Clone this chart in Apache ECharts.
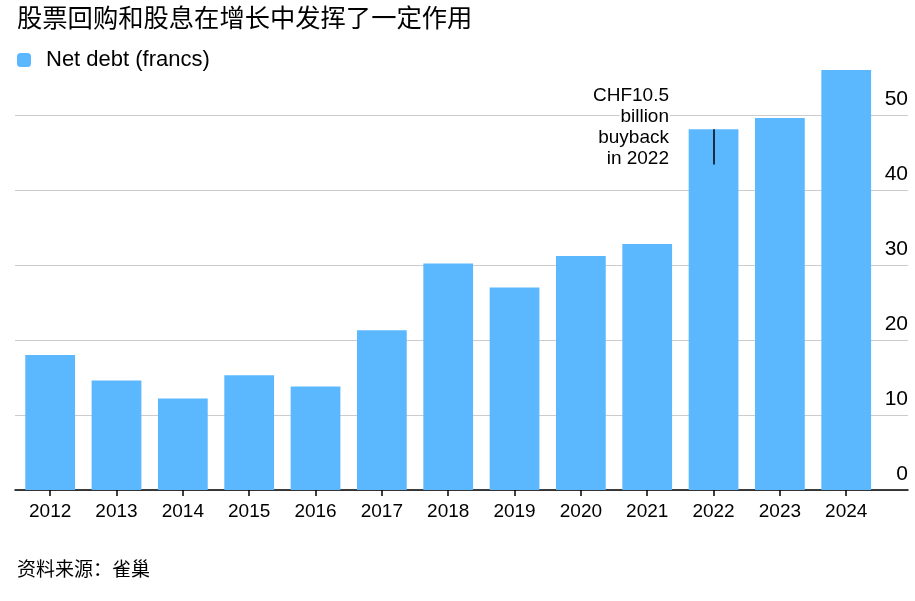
<!DOCTYPE html>
<html>
<head>
<meta charset="utf-8">
<script src="https://cdn.jsdelivr.net/npm/echarts@6/dist/echarts.min.js"></script>
<style>html,body{margin:0;padding:0;background:#fff;}#c{width:915px;height:601px;}</style>
</head>
<body>
<div id="c"></div>
<script>
const years = ['2012','2013','2014','2015','2016','2017','2018','2019','2020','2021','2022','2023','2024'];
const netDebt = [18.0, 14.6, 12.2, 15.3, 13.8, 21.3, 30.2, 27.0, 31.2, 32.8, 48.1, 49.6, 56.0];
const yTicks = [0, 10, 20, 30, 40, 50];
const titleText = '股票回购和股息在增长中发挥了一定作用';
const legendText = 'Net debt (francs)';
const sourceText = '资料来源：雀巢';
const noteText = 'CHF10.5\nbillion\nbuyback\nin 2022';
const noteYear = '2022';
const noteRange = [48.1, 43.4];

const FONT = '"Liberation Sans", Arial, Helvetica, sans-serif';
const CJK = '"Noto Sans CJK SC", sans-serif';
const chart = echarts.init(document.getElementById('c'));
chart.setOption({
  animation: false,
  backgroundColor: '#fff',
  title: [
    {text: titleText, left: 17, top: 5, padding: 0, textStyle: {fontFamily: CJK, fontSize: 25.3, fontWeight: 'normal', color: '#000'}},
    {text: sourceText, left: 17, top: 559, padding: 0, textStyle: {fontFamily: CJK, fontSize: 19, fontWeight: 'normal', color: '#000'}}
  ],
  legend: {
    left: 17, top: 49, padding: 0, icon: 'roundRect', itemWidth: 14, itemHeight: 14, itemGap: 10,
    textStyle: {fontFamily: FONT, fontSize: 22, color: '#000', padding: [0,0,0,10]},
    data: [legendText]
  },
  grid: [
    {left: 17, right: 35.6, top: 40, bottom: 111},
    {left: 15, right: 7, top: 40, bottom: 111}
  ],
  xAxis: [
    {type: 'category', gridIndex: 0, data: years,
     axisLine: {show: false},
     axisTick: {show: true, alignWithLabel: true, length: 6, lineStyle: {color: '#000', width: 1.5}},
     axisLabel: {fontFamily: FONT, fontSize: 19, color: '#000', margin: 12}},
    {type: 'value', gridIndex: 1, min: 0, max: 1,
     axisLine: {show: true, onZero: false, lineStyle: {color: '#000', width: 1.5}},
     axisTick: {show: false}, axisLabel: {show: false}, splitLine: {show: false}}
  ],
  yAxis: [
    {type: 'value', gridIndex: 0, min: 0, max: 60, interval: 10, show: false, splitLine: {show: false}},
    {type: 'value', gridIndex: 1, min: 0, max: 60, interval: 10, position: 'right',
     axisLine: {show: false}, axisTick: {show: false},
     splitLine: {show: true, showMaxLine: false, lineStyle: {color: '#cccccc', width: 1.2}},
     axisLabel: {inside: true, margin: 0, showMaxLabel: false, verticalAlign: 'bottom', padding: [0,0,5,0],
       fontFamily: FONT, fontSize: 21, color: '#000',
       formatter: v => yTicks.indexOf(v) >= 0 ? String(v) : ''}}
  ],
  series: [{
    name: legendText, type: 'bar', xAxisIndex: 0, yAxisIndex: 0,
    data: netDebt, barCategoryGap: '25%',
    itemStyle: {color: '#5cb8fe'},
    markLine: {
      silent: true, symbol: 'none', label: {show: false},
      lineStyle: {color: '#000', width: 1.5, type: 'solid'},
      data: [[{coord: [noteYear, noteRange[0]]}, {coord: [noteYear, noteRange[1]]}]]
    }
  }],
  graphic: [{
    type: 'text', x: 669, y: 85, z: 100,
    style: {text: noteText, fontFamily: FONT, fontSize: 19, lineHeight: 21, fill: '#000',
            align: 'right', textAlign: 'right', stroke: '#fff', lineWidth: 4}
  }]
});
</script>
</body>
</html>
